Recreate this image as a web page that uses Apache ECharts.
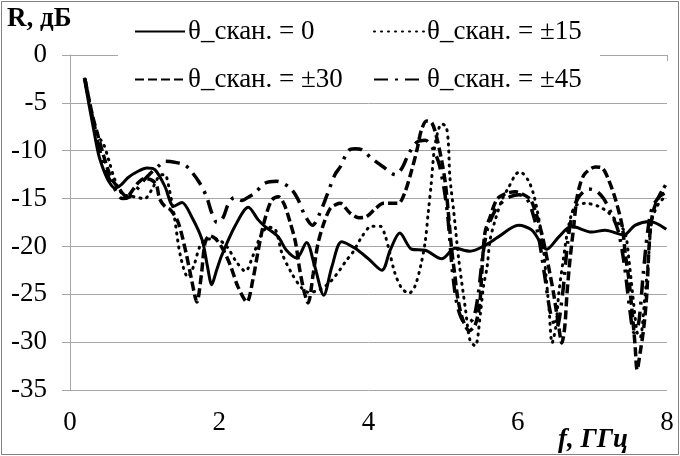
<!DOCTYPE html>
<html>
<head>
<meta charset="utf-8">
<script src="https://cdn.jsdelivr.net/npm/echarts@6/dist/echarts.min.js"></script>
<style>html,body{margin:0;padding:0;background:#fff}#c{width:680px;height:456px}</style>
</head>
<body>
<div id="c"></div>
<script>
// x tick labels (GHz) and y ticks (dB)
const xTicks = [0, 2, 4, 6, 8];
const yTicks = [0, -5, -10, -15, -20, -25, -30, -35];
const seriesNames = ['θ_скан. = 0', 'θ_скан. = ±15', 'θ_скан. = ±30', 'θ_скан. = ±45'];

// [f (GHz), R (dB)] pairs
const scan0 = [[0.19,-2.4],[0.25,-5],[0.31,-7.5],[0.38,-10.3],[0.45,-12],[0.52,-13.2],[0.6,-13.9],[0.68,-13.6],[0.78,-12.8],[0.9,-12.2],[1.03,-11.8],[1.14,-12.0],[1.27,-13.7],[1.39,-15.8],[1.5,-15.4],[1.63,-16.9],[1.77,-19.3],[1.84,-22],[1.9,-24.0],[1.96,-22.6],[2.03,-21.0],[2.21,-17.9],[2.39,-15.9],[2.52,-17.2],[2.61,-17.9],[2.79,-19.0],[2.9,-20.4],[3.04,-21.2],[3.17,-19.6],[3.28,-22.1],[3.4,-25.1],[3.51,-22.1],[3.64,-19.5],[3.82,-20.2],[4.0,-21.3],[4.18,-22.5],[4.29,-20.4],[4.42,-18.6],[4.58,-20.3],[4.76,-20.4],[4.98,-21.3],[5.16,-20.2],[5.36,-20.5],[5.56,-19.9],[5.74,-19.0],[6.01,-17.8],[6.19,-18.3],[6.39,-20.3],[6.55,-19.0],[6.72,-17.9],[6.99,-18.5],[7.17,-18.3],[7.42,-18.8],[7.57,-17.8],[7.77,-17.4],[7.99,-18.2]];
const scan15 = [[0.2,-2.5],[0.3,-6.5],[0.38,-8.5],[0.45,-9.3],[0.52,-11],[0.6,-13],[0.7,-14.5],[0.85,-14.8],[1.0,-15],[1.1,-14],[1.2,-12.6],[1.27,-12.5],[1.33,-14],[1.4,-17],[1.48,-21],[1.58,-23.2],[1.66,-22],[1.74,-20],[1.82,-19.3],[1.95,-19.2],[2.1,-20],[2.22,-21.5],[2.35,-22.6],[2.45,-21],[2.55,-19],[2.65,-18],[2.75,-18.2],[2.84,-20.7],[2.97,-22.8],[3.1,-24.3],[3.2,-24.8],[3.35,-24.5],[3.5,-23.6],[3.62,-22.4],[3.7,-21.5],[3.8,-20.5],[3.91,-19],[4.04,-17.9],[4.16,-17.9],[4.22,-18.8],[4.28,-20.5],[4.35,-22.7],[4.44,-24.3],[4.54,-24.9],[4.62,-24.2],[4.7,-22],[4.76,-19.5],[4.8,-16.5],[4.84,-13.5],[4.88,-10],[4.93,-8],[4.98,-7.2],[5.04,-7.5],[5.07,-9.2],[5.09,-12.7],[5.14,-16.2],[5.21,-21.4],[5.3,-26.6],[5.36,-29.8],[5.43,-30.4],[5.5,-27],[5.54,-24.2],[5.59,-22.1],[5.63,-19.3],[5.7,-17.2],[5.79,-15.1],[5.88,-13.8],[5.97,-12.5],[6.03,-12.2],[6.14,-13.1],[6.21,-14.5],[6.26,-16.2],[6.3,-17.9],[6.35,-20.7],[6.38,-23.2],[6.42,-26.6],[6.46,-30.1],[6.51,-28.4],[6.55,-24.9],[6.61,-21.4],[6.68,-17.9],[6.77,-15.8],[6.9,-15.5],[7.08,-15.8],[7.22,-16.5],[7.35,-17.6],[7.44,-18.6],[7.49,-21.4],[7.54,-25],[7.6,-29],[7.64,-29.5],[7.7,-25.6],[7.75,-21.4],[7.8,-17.2],[7.89,-15.5],[7.98,-14.8]];
const scan30 = [[0.2,-2.5],[0.3,-6.3],[0.36,-8],[0.45,-10.5],[0.55,-12.8],[0.67,-14.1],[0.76,-14.8],[0.85,-14],[0.92,-13.3],[1.0,-12.9],[1.1,-13.1],[1.16,-13.6],[1.2,-15],[1.27,-15.8],[1.35,-16.2],[1.45,-17.5],[1.55,-20.5],[1.63,-23.5],[1.7,-25.8],[1.76,-23],[1.81,-19.6],[1.87,-18.9],[1.95,-19.2],[2.05,-20.3],[2.15,-22],[2.25,-24.2],[2.37,-25.8],[2.45,-23.5],[2.52,-20.5],[2.6,-17.5],[2.7,-15.2],[2.79,-14.8],[2.87,-15.6],[2.95,-17.5],[3.02,-19.5],[3.08,-22.5],[3.14,-24.8],[3.19,-25.9],[3.26,-22.8],[3.32,-19.8],[3.4,-17.6],[3.49,-16],[3.57,-15.6],[3.62,-15.5],[3.75,-16.5],[3.87,-17],[3.97,-16.9],[4.1,-16],[4.2,-15.5],[4.31,-15.5],[4.4,-15.5],[4.49,-14.3],[4.58,-12],[4.65,-9.9],[4.71,-7.8],[4.78,-6.9],[4.85,-7.1],[4.91,-8.5],[4.98,-11],[5.03,-13.4],[5.07,-16.5],[5.11,-20],[5.16,-23.2],[5.2,-25.6],[5.27,-27.8],[5.35,-28.8],[5.43,-28.2],[5.49,-26],[5.52,-22.5],[5.56,-18.6],[5.63,-16.9],[5.72,-15.1],[5.83,-14.5],[5.97,-14.3],[6.08,-14.6],[6.17,-15.1],[6.23,-16.2],[6.32,-18.6],[6.37,-20.4],[6.43,-22.8],[6.48,-24.9],[6.55,-28.4],[6.59,-30.1],[6.63,-28.4],[6.66,-24.9],[6.7,-21.4],[6.75,-17.9],[6.79,-15.1],[6.84,-13.4],[6.9,-12.4],[7.04,-11.7],[7.13,-11.8],[7.22,-13.1],[7.31,-15.1],[7.4,-17.9],[7.44,-20.7],[7.49,-23.5],[7.53,-26.6],[7.57,-30.1],[7.6,-32.9],[7.64,-31.1],[7.69,-28.4],[7.73,-24.9],[7.75,-21.4],[7.78,-17.9],[7.82,-16.2],[7.89,-14.8],[7.98,-13.6]];
const scan45 = [[0.2,-2.5],[0.3,-6.5],[0.4,-10],[0.5,-12.5],[0.6,-14],[0.7,-15],[0.8,-14.8],[0.9,-14],[1.0,-13],[1.1,-12.2],[1.2,-11.5],[1.27,-11.1],[1.4,-11.2],[1.54,-11.5],[1.63,-12.2],[1.74,-13.4],[1.83,-14.8],[1.9,-16.5],[1.97,-17.5],[2.05,-17],[2.12,-15.6],[2.2,-14.9],[2.3,-15.2],[2.4,-14.8],[2.48,-14.4],[2.61,-13.4],[2.77,-13.2],[2.95,-13.9],[3.05,-15],[3.15,-16.8],[3.25,-17.8],[3.35,-16.5],[3.45,-14.5],[3.55,-12.5],[3.62,-11.7],[3.73,-10],[3.82,-9.8],[3.91,-9.9],[4.04,-10.8],[4.2,-11.7],[4.36,-12.5],[4.45,-11.8],[4.54,-10.3],[4.65,-9.1],[4.76,-8.9],[4.85,-9.6],[4.95,-11.5],[5.05,-16],[5.13,-23],[5.2,-26.5],[5.3,-28],[5.4,-27.6],[5.47,-25],[5.53,-21],[5.6,-18],[5.7,-16.2],[5.8,-15.3],[5.9,-14.8],[6.02,-14.6],[6.12,-15],[6.2,-16.5],[6.28,-19],[6.36,-23],[6.44,-27],[6.52,-28.5],[6.6,-25],[6.67,-19.5],[6.74,-16.3],[6.82,-14.8],[6.95,-14.0],[7.05,-14.2],[7.15,-15],[7.25,-16.5],[7.35,-18.5],[7.43,-22],[7.5,-26.5],[7.56,-29],[7.62,-28],[7.68,-23],[7.74,-18.5],[7.8,-16],[7.9,-14.8],[8.0,-14.3]];

const FONT = 'Liberation Serif';
const GRAY = '#a6a6a6';
const chart = echarts.init(document.getElementById('c'), null, {renderer: 'canvas'});

const styles = [
  {width: 3, type: 'solid', cap: 'butt'},
  {width: 3, type: [1, 6], cap: 'round'},
  {width: 3.5, type: [9, 4], cap: 'butt'},
  {width: 3.5, type: [14, 7, 3, 7], cap: 'butt'}
];
const datas = [scan0, scan15, scan30, scan45];

const legendPos = [
  {left: 134, top: 18}, {left: 373, top: 18},
  {left: 134, top: 66}, {left: 373, top: 66}
];
const labelStyle = {fontFamily: FONT, fontSize: 27, color: '#000', fontWeight: 'normal'};

const option = {
  animation: false,
  backgroundColor: '#fff',
  textStyle: {fontFamily: FONT},
  grid: {left: 70, right: 13, top: 55, bottom: 66},
  xAxis: [
    {type: 'value', min: xTicks[0], max: xTicks[xTicks.length - 1], interval: 2, position: 'bottom',
     axisLine: {show: false}, axisTick: {show: false}, splitLine: {show: false},
     axisLabel: Object.assign({margin: 19}, labelStyle)},
    {type: 'value', min: xTicks[0], max: xTicks[xTicks.length - 1], interval: 2, position: 'top',
     axisLine: {show: true, lineStyle: {color: GRAY, width: 1}},
     axisTick: {show: true, inside: true, length: 6, lineStyle: {color: GRAY}},
     axisLabel: {show: false}, splitLine: {show: false}}
  ],
  yAxis: {
    type: 'value', min: yTicks[yTicks.length - 1], max: yTicks[0], interval: 5,
    axisLine: {show: true, lineStyle: {color: GRAY, width: 1}},
    axisTick: {show: true, length: 8, lineStyle: {color: GRAY}},
    splitLine: {lineStyle: {color: GRAY, width: 1}},
    axisLabel: Object.assign({margin: 23}, labelStyle)
  },
  legend: seriesNames.map((n, i) => ({
    data: [n], left: legendPos[i].left, top: legendPos[i].top, padding: 0,
    itemWidth: 50, itemHeight: 12, itemGap: 0,
    itemStyle: {opacity: 0},
    textStyle: Object.assign({padding: [0, 0, 0, -2]}, labelStyle)
  })),
  graphic: [
    {type: 'rect', z: 3, shape: {x: 118, y: 6, width: 482, height: 92}, style: {fill: '#fff'}},
    {type: 'rect', z: 10, shape: {x: 1.5, y: 1.5, width: 677, height: 453}, style: {fill: 'none', stroke: '#808080', lineWidth: 1}},
    {type: 'text', z: 10, left: 7, top: 6, style: {text: 'R, дБ', fontFamily: FONT, fontWeight: 'bold', fontSize: 27, fill: '#000'}},
    {type: 'text', z: 10, left: 558, top: 427, style: {text: 'f, ГГц', fontFamily: FONT, fontWeight: 'bold', fontStyle: 'italic', fontSize: 27, fill: '#000'}}
  ],
  series: seriesNames.map((n, i) => ({
    name: n, type: 'line', data: datas[i], xAxisIndex: 0, yAxisIndex: 0,
    symbol: 'none', showSymbol: false, smooth: 0.3,
    lineStyle: {color: '#000', width: styles[i].width, type: styles[i].type, cap: styles[i].cap},
    itemStyle: {color: '#000'}
  }))
};
chart.setOption(option);
</script>
</body>
</html>
